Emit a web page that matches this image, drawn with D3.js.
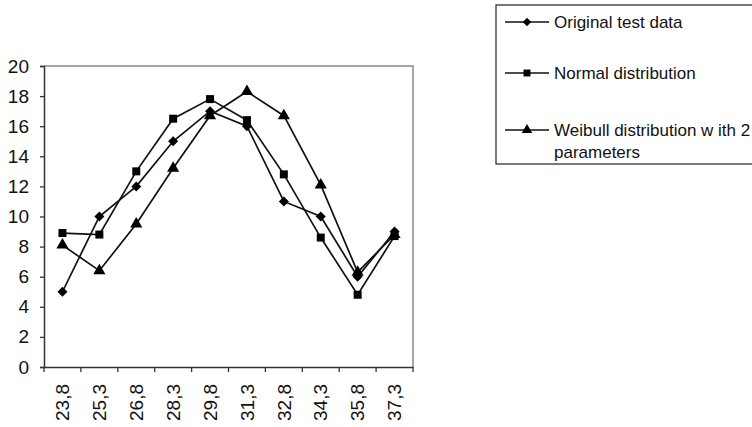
<!DOCTYPE html>
<html>
<head>
<meta charset="utf-8">
<script src="https://cdn.jsdelivr.net/npm/d3@7"></script>
<style>
  body { margin: 0; background: #fff; }
  svg { font-family: "Liberation Sans", Arial, sans-serif; }
</style>
</head>
<body>
<div id="chart"></div>
<script>
// data
const categories = ["23,8", "25,3", "26,8", "28,3", "29,8", "31,3", "32,8", "34,3", "35,8", "37,3"];
const original = [5, 10, 12, 15, 17, 16, 11, 10, 6, 9];
const normal = [8.9, 8.8, 13, 16.5, 17.8, 16.4, 12.8, 8.6, 4.8, 8.7];
const weibull = [8.1, 6.4, 9.5, 13.2, 16.7, 18.3, 16.7, 12.1, 6.3, 8.8];
const yTicks = [0, 2, 4, 6, 8, 10, 12, 14, 16, 18, 20];
const seriesNames = ["Original test data", "Normal distribution", "Weibull distribution w ith 2"];

const width = 752, height = 427;
const plot = { left: 44, right: 413, top: 66, bottom: 367 };

const svg = d3.select("#chart")
    .append("svg")
    .attr("width", width)
    .attr("height", height);

const x = d3.scaleBand().domain(categories).range([plot.left, plot.right]).padding(0);
const y = d3.scaleLinear().domain([0, 20]).range([plot.bottom, plot.top]);

// plot frame (grey top and right)
svg.append("path")
    .attr("d", `M${plot.left},${plot.top}H${plot.right}V${plot.bottom}`)
    .attr("fill", "none")
    .attr("stroke", "#888")
    .attr("stroke-width", 1.5);

// Y axis
const yAxis = svg.append("g")
    .attr("transform", `translate(${plot.left},0)`)
    .call(d3.axisLeft(y).tickValues(yTicks).tickSize(4).tickPadding(11));
yAxis.select(".domain").attr("stroke", "#333").attr("stroke-width", 1.5);
yAxis.selectAll(".tick line").attr("stroke", "#333").attr("stroke-width", 1.3);
yAxis.selectAll("text")
    .attr("font-size", 19)
    .attr("font-family", "Liberation Sans, Arial, sans-serif")
    .attr("fill", "#111");

// X axis: labels at band centres, ticks at band edges
const xAxis = svg.append("g")
    .attr("transform", `translate(0,${plot.bottom})`)
    .call(d3.axisBottom(x).tickSize(0).tickSizeOuter(0));
xAxis.select(".domain").attr("stroke", "#333").attr("stroke-width", 1.5);
xAxis.selectAll("text")
    .attr("font-size", 19)
    .attr("font-family", "Liberation Sans, Arial, sans-serif")
    .attr("fill", "#111")
    .attr("transform", "rotate(-90)")
    .attr("x", -17)
    .attr("y", 0)
    .attr("dy", "0.35em")
    .style("text-anchor", "end");

const edges = categories.map(d => x(d)).concat([x.range()[1]]);
xAxis.selectAll(".edge")
    .data(edges)
    .join("line")
    .attr("class", "edge")
    .attr("x1", d => d).attr("x2", d => d)
    .attr("y1", 0).attr("y2", 5)
    .attr("stroke", "#333")
    .attr("stroke-width", 1.3);

// series
const series = [
    { name: seriesNames[0], values: original, symbol: d3.symbolSquare, size: 50, rotate: 45 },
    { name: seriesNames[1], values: normal, symbol: d3.symbolSquare, size: 64, rotate: 0 },
    { name: seriesNames[2], values: weibull, symbol: d3.symbolTriangle, size: 64, rotate: 0 }
];

const cx = (d, i) => x(categories[i]) + x.bandwidth() / 2;
const line = d3.line().x(cx).y(d => y(d));

series.forEach(s => {
    svg.append("path")
        .datum(s.values)
        .attr("fill", "none")
        .attr("stroke", "#111")
        .attr("stroke-width", 1.7)
        .attr("d", line);
});

series.forEach(s => {
    svg.append("g").selectAll("path")
        .data(s.values)
        .join("path")
        .attr("d", d3.symbol().type(s.symbol).size(s.size))
        .attr("transform", (d, i) => `translate(${cx(d, i)},${y(d)}) rotate(${s.rotate})`)
        .attr("fill", "#000");
});

// legend
const legend = svg.append("g");
legend.append("rect")
    .attr("x", 496).attr("y", 5)
    .attr("width", 270).attr("height", 159)
    .attr("fill", "#fff")
    .attr("stroke", "#333")
    .attr("stroke-width", 1.3);

const legendY = [22, 73, 130];
series.forEach((s, i) => {
    const g = legend.append("g").attr("transform", `translate(0,${legendY[i]})`);
    g.append("line")
        .attr("x1", 505).attr("x2", 549)
        .attr("stroke", "#111").attr("stroke-width", 1.6);
    g.append("path")
        .attr("d", d3.symbol().type(s.symbol).size(s.size * 0.75))
        .attr("transform", `translate(527,0) rotate(${s.rotate})`)
        .attr("fill", "#000");
    g.append("text")
        .attr("x", 554)
        .attr("dy", "0.35em")
        .attr("font-size", 17)
        .attr("fill", "#111")
        .text(s.name);
});
legend.append("text")
    .attr("x", 554)
    .attr("y", 152)
    .attr("dy", "0.35em")
    .attr("font-size", 17)
    .attr("fill", "#111")
    .text("parameters");
</script>
</body>
</html>
